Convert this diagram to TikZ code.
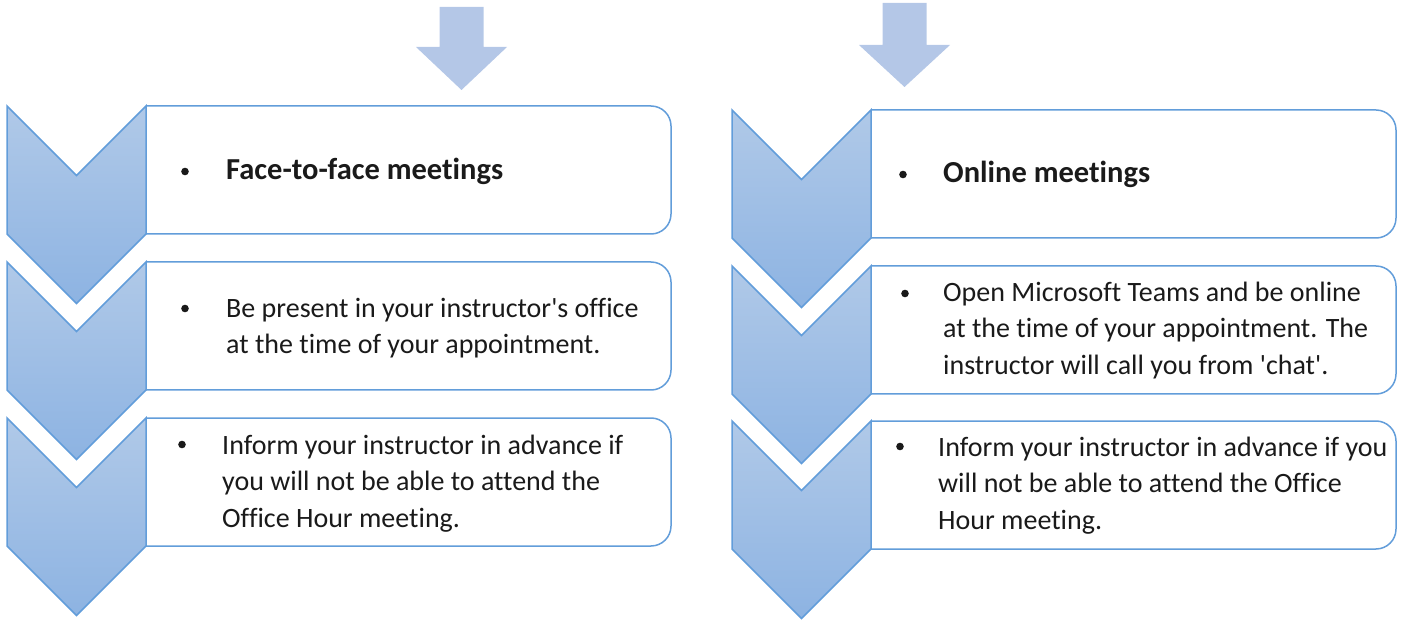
\documentclass[tikz,border=0pt]{standalone}
\usepackage{fontspec}
\setmainfont[Ligatures=NoCommon]{Carlito}

\definecolor{arrowblue}{HTML}{B4C7E7}
\definecolor{chevtop}{HTML}{B0C9E8}
\definecolor{chevbot}{HTML}{8DB3E2}
\definecolor{edgeblue}{HTML}{629DDA}
\definecolor{ink}{HTML}{1A1A1A}

% chevron segment: top-left corner at (#1,#2)
\newcommand\drawchevron[2]{%
  \shade[chevron] (#1,#2) -- ++(69.5,69.5) -- ++(69.5,-69.5) -- ++(0,128)
    -- ++(-69.5,69.5) -- ++(-69.5,-69.5) -- cycle;}
% text card: left x, top y, right x
\newcommand\drawcard[3]{%
  \filldraw[card] (#1,#2) -- (#3,#2) -- (#3,#2+128) -- (#1,#2+128);}
% block arrow pointing down: centre x, top y, shaft bottom y, tip y
\newcommand\drawdownarrow[4]{%
  \fill[downarrow] (#1-22,#2) -- (#1+22,#2) -- (#1+22,#3) -- (#1+45.5,#3)
    -- (#1,#4) -- (#1-45.5,#3) -- (#1-22,#3) -- cycle;}

\begin{document}
\begin{tikzpicture}[x=1pt,y=-1pt,
  chevron/.style={top color=chevtop,bottom color=chevbot,draw=edgeblue,line width=1.5pt,line join=miter},
  card/.style={fill=white,draw=edgeblue,line width=1.5pt,rounded corners=20pt},
  downarrow/.style={fill=arrowblue},
  % multi-line paragraphs are placed by the baseline of their last line
  bodytext/.style={anchor=base west,inner sep=0pt,align=left,text=ink,
    font=\fontsize{28}{36.5}\selectfont},
  headtext/.style={anchor=base west,inner sep=0pt,text=ink,
    font=\fontsize{30.5}{36.5}\selectfont\bfseries},
  bulletdot/.style={circle,fill=ink,inner sep=0pt,minimum size=7.6pt}]
\useasboundingbox (0,0) rectangle (1409,620);

% top arrows
\drawdownarrow{461.5}{7}{47}{90}
\drawdownarrow{904.5}{3}{45}{87}

% left column: face-to-face
\drawcard{146}{106}{671}
\drawcard{146}{262}{671}
\drawcard{146}{418}{671}
\drawchevron{7}{106}
\drawchevron{7}{262}
\drawchevron{7}{418}

\node[bulletdot] (lb1) at (185,171.5) {};
\node[headtext] (lt1) at (226,180) {Face-to-face meetings};
\node[bulletdot] (lb2) at (185,308.5) {};
\node[bodytext] (lt2) at (226,354) {Be present in your instructor\textquotesingle s office\\at the time of your appointment.};
\node[bulletdot] (lb3) at (182,444.5) {};
\node[bodytext] (lt3) at (222,527) {Inform your instructor in advance if\\you will not be able to attend the\\Office Hour meeting.};

% right column: online
\drawcard{871}{110}{1396}
\drawcard{871}{266}{1396}
\drawcard{871}{421}{1396}
\drawchevron{732}{110}
\drawchevron{732}{266}
\drawchevron{732}{421}

\node[bulletdot] (rb1) at (903,174.5) {};
\node[headtext] (rt1) at (943,183) {Online meetings};
\node[bulletdot] (rb2) at (905,293.5) {};
\node[bodytext] (rt2) at (943,374) {Open Microsoft Teams and be online\\at the time of your appointment. The\\instructor will call you from \textquotesingle chat\textquotesingle.};
\node[bulletdot] (rb3) at (900,446.5) {};
\node[bodytext] (rt3) at (938,529) {Inform your instructor in advance if you\\will not be able to attend the Office\\Hour meeting.};
\end{tikzpicture}
\end{document}
